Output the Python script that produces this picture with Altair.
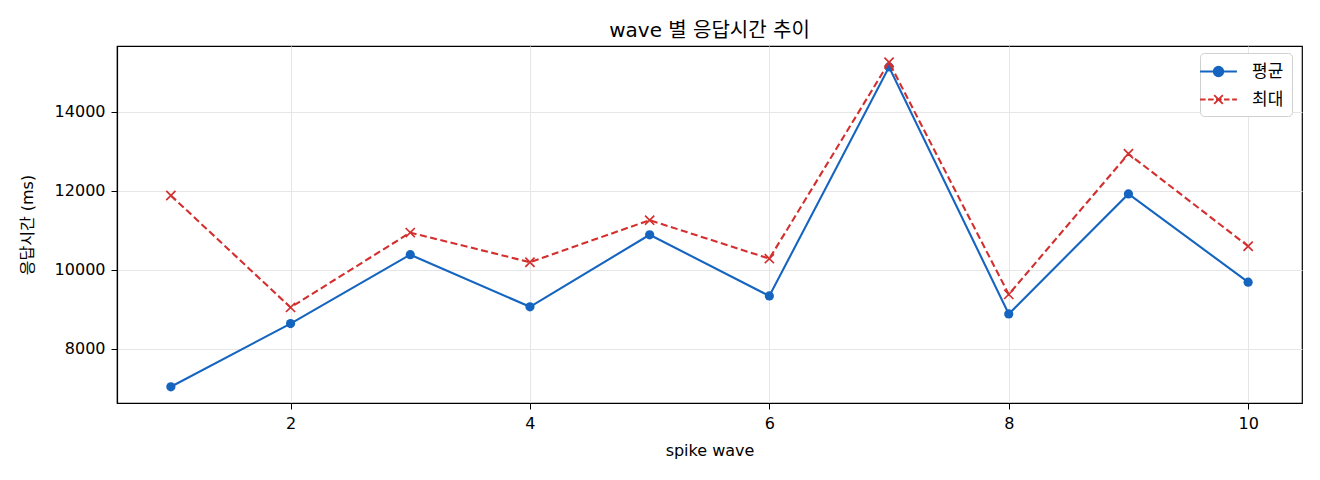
import altair as alt
import pandas as pd

# ---- data ----
waves = [1, 2, 3, 4, 5, 6, 7, 8, 9, 10]
mean_ms = [7040, 8640, 10385, 9065, 10890, 9340, 15140, 8885, 11925, 9690]
max_ms = [11885, 9050, 10945, 10195, 11260, 10285, 15260, 9380, 12940, 10600]
series_names = ["평균", "최대"]
x_ticks = [2, 4, 6, 8, 10]
y_ticks = [8000, 10000, 12000, 14000]

df = pd.DataFrame({
    "wave": waves + waves,
    "value": mean_ms + max_ms,
    "series": [series_names[0]] * len(waves) + [series_names[1]] * len(waves),
})

# matplotlib-like 5% margins
all_vals = mean_ms + max_ms
lo, hi = min(all_vals), max(all_vals)
ypad = 0.05 * (hi - lo)
xpad = 0.05 * (max(waves) - min(waves))

BLUE = "#1565c0"
RED = "#d32f2f"
colors = [BLUE, RED]

FONT = "DejaVu Sans, Noto Sans CJK KR"
KFONT = "Noto Sans CJK KR"

x_enc = alt.X("wave:Q",
              scale=alt.Scale(domain=[min(waves) - xpad, max(waves) + xpad], nice=False, zero=False),
              axis=alt.Axis(values=x_ticks, title="spike wave", format="d"))
y_enc = alt.Y("value:Q",
              scale=alt.Scale(domain=[lo - ypad, hi + ypad], nice=False, zero=False),
              axis=alt.Axis(values=y_ticks, title="응답시간 (ms)", format="d"))

color_scale = alt.Scale(domain=series_names, range=colors)

# legend symbols: line + marker
path_mean = ("M-2,0L2,0"
             "M-0.52,0A0.52,0.52 0 1,1 0.52,0A0.52,0.52 0 1,1 -0.52,0Z")
path_max = ("M-2,0L-1.4,0M-1.13,0L-0.53,0M-0.26,0L0.34,0M0.6,0L1.2,0M1.48,0L2,0"
            "M-0.47,-0.47L0.47,0.47M-0.47,0.47L0.47,-0.47")

leg = alt.Legend(title=None, orient="none", legendX=1083, legendY=7,
                 symbolSize=340, symbolStrokeWidth=1.8, symbolOpacity=1,
                 labelFont=KFONT, labelFontSize=17, labelColor="black",
                 labelOffset=23, rowPadding=9, padding=8,
                 strokeColor="#d0d0d0", fillColor="white", cornerRadius=4)

color_enc = alt.Color("series:N", scale=color_scale, legend=leg)

base = alt.Chart(df)

mean_line = base.transform_filter(alt.datum.series == series_names[0]).mark_line(
    strokeWidth=2.1).encode(x=x_enc, y=y_enc, color=color_enc)
mean_pts = base.transform_filter(alt.datum.series == series_names[0]).mark_point(
    filled=True, size=85, shape="circle", opacity=1).encode(
    x=x_enc, y=y_enc, color=color_enc)

max_line = base.transform_filter(alt.datum.series == series_names[1]).mark_line(
    strokeWidth=2.1, strokeDash=[7, 3.5]).encode(x=x_enc, y=y_enc, color=color_enc)
max_pts = base.transform_filter(alt.datum.series == series_names[1]).mark_point(
    filled=False, size=85, shape="M-1,-1L1,1M-1,1L1,-1", strokeWidth=1.7, opacity=1).encode(
    x=x_enc, y=y_enc, color=color_enc)

legend_layer = base.mark_point(filled=True, opacity=0, strokeWidth=1.6).encode(
    x=x_enc, y=y_enc,
    color=color_enc,
    stroke=alt.Stroke("series:N", scale=alt.Scale(domain=series_names, range=colors), legend=leg),
    shape=alt.Shape("series:N", scale=alt.Scale(domain=series_names, range=[path_mean, path_max]), legend=leg),
)

chart = alt.layer(mean_line, mean_pts, max_line, max_pts, legend_layer).properties(
    width=1185, height=357,
    title=alt.TitleParams("wave 별 응답시간 추이", font=FONT, fontSize=20, fontWeight="normal",
                          color="black", anchor="middle", offset=6, baseline="bottom", dy=21),
    padding={"left": 109, "top": 38, "right": 10, "bottom": 60},
    autosize=alt.AutoSizeParams(type="none"),
).configure_view(
    stroke="black", strokeWidth=1.2
).configure_axis(
    domainColor="black", domainWidth=1.2, tickColor="black", tickSize=6, tickWidth=1,
    labelPadding=6, labelFont=FONT, labelFontSize=16, labelColor="black",
    titleFont=FONT, titleFontSize=16, titleFontWeight="normal", titleColor="black",
    gridColor="#e6e6e6", gridWidth=1, grid=True
).configure_axisY(titlePadding=19).configure_axisX(titlePadding=11)

chart.save("out.html", embed_options={"renderer": "svg", "actions": False})
